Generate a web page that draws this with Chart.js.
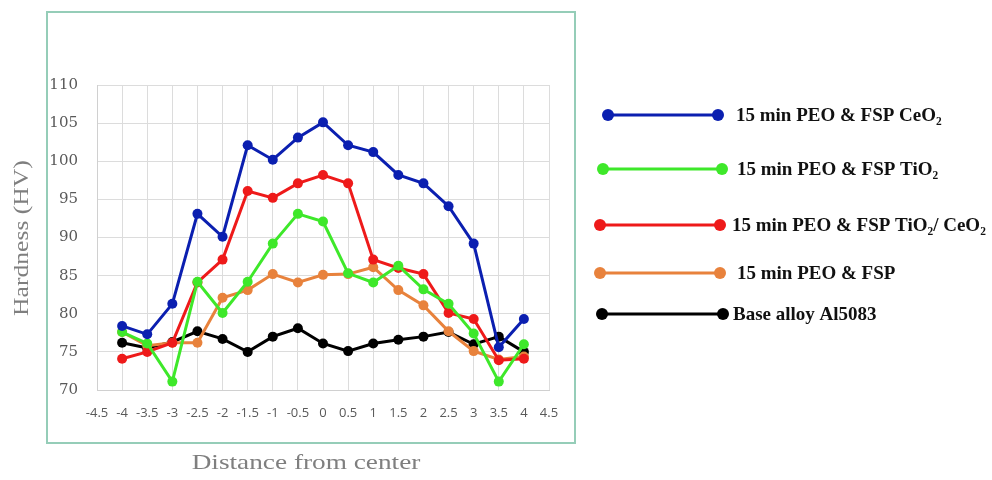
<!DOCTYPE html>
<html>
<head>
<meta charset="utf-8">
<script src="https://cdn.jsdelivr.net/npm/chart.js@4"></script>
<style>
  html, body { margin: 0; padding: 0; background: #fff; }
  #wrap { width: 992px; height: 480px; }
</style>
</head>
<body>
<div id="wrap"><canvas id="hardness-chart" width="992" height="480"></canvas></div>
<script>
const distances = [-4, -3.5, -3, -2.5, -2, -1.5, -1, -0.5, 0, 0.5, 1, 1.5, 2, 2.5, 3, 3.5, 4];
const xTickValues = [-4.5, -4, -3.5, -3, -2.5, -2, -1.5, -1, -0.5, 0, 0.5, 1, 1.5, 2, 2.5, 3, 3.5, 4, 4.5];
const yTickValues = [70, 75, 80, 85, 90, 95, 100, 105, 110];

const ceo2 = [78.4, 77.3, 81.3, 93.1, 90.1, 102.1, 100.2, 103.1, 105.1, 102.1, 101.2, 98.2, 97.1, 94.1, 89.2, 75.6, 79.3];
const tio2 = [77.6, 76.1, 71.1, 84.2, 80.1, 84.2, 89.2, 93.1, 92.1, 85.3, 84.1, 86.3, 83.2, 81.3, 77.4, 71.1, 76.0];
const tio2Ceo2 = [74.1, 75.0, 76.2, 84.1, 87.1, 96.1, 95.2, 97.1, 98.2, 97.1, 87.1, 86.0, 85.2, 80.1, 79.3, 73.9, 74.1];
const peoFsp = [77.6, 75.8, 76.2, 76.2, 82.1, 83.1, 85.2, 84.1, 85.1, 85.2, 86.1, 83.1, 81.1, 77.7, 75.1, 74.0, 74.4];
const baseAlloy = [76.2, 75.5, 76.3, 77.7, 76.7, 75.0, 77.0, 78.1, 76.1, 75.1, 76.1, 76.6, 77.0, 77.6, 76.0, 77.0, 75.0];

const seriesNames = [
  "15 min PEO & FSP CeO\u2082",
  "15 min PEO & FSP TiO\u2082",
  "15 min PEO & FSP TiO\u2082/ CeO\u2082",
  "15 min PEO & FSP",
  "Base alloy Al5083",
];
const seriesValues = [ceo2, tio2, tio2Ceo2, peoFsp, baseAlloy];
const seriesColors = ["#0b1fb0", "#3ee82a", "#ee1a1a", "#e8823c", "#000000"];

const datasets = seriesValues.map((vals, i) => ({
  label: seriesNames[i],
  data: vals.map((v, j) => ({ x: distances[j], y: v })),
  borderColor: seriesColors[i],
  backgroundColor: seriesColors[i],
  borderWidth: 3,
  pointRadius: 5,
  pointBorderWidth: 0,
  tension: 0,
}));

// stretched text, the original picture is a bit wider than its fonts
function wideText(ctx, text, x, y, sx) {
  ctx.save();
  ctx.translate(x, y);
  ctx.scale(sx, 1);
  ctx.fillText(text, 0, 0);
  ctx.restore();
}

// frame, axis titles and the side legend
const decor = {
  id: "decor",
  beforeDraw(chart) {
    const ctx = chart.ctx;
    ctx.save();
    ctx.fillStyle = "#fff";
    ctx.fillRect(0, 0, chart.width, chart.height);
    ctx.strokeStyle = "#95cdb8";
    ctx.lineWidth = 2;
    ctx.strokeRect(47, 12, 528, 431);
    ctx.restore();
  },
  afterDraw(chart) {
    const ctx = chart.ctx;
    ctx.save();
    ctx.fillStyle = "#7f7f7f";
    ctx.textAlign = "center";
    ctx.textBaseline = "middle";
    ctx.font = "22px 'Liberation Serif'";
    wideText(ctx, "Distance from center", 306, 463, 1.24);
    ctx.translate(22, 238);
    ctx.rotate(-Math.PI / 2);
    ctx.font = "21px 'Liberation Serif'";
    wideText(ctx, "Hardness (HV)", 0, 0, 1.22);
    ctx.restore();

    const rows = [
      { y: 115, x0: 608, x1: 718, tx: 736 },
      { y: 169, x0: 603, x1: 722, tx: 737 },
      { y: 225, x0: 600, x1: 720, tx: 732 },
      { y: 273, x0: 600, x1: 720, tx: 737 },
      { y: 314, x0: 602, x1: 723, tx: 733 },
    ];
    ctx.save();
    ctx.font = "bold 19px 'Liberation Serif'";
    ctx.textBaseline = "middle";
    ctx.textAlign = "left";
    rows.forEach((r, i) => {
      ctx.strokeStyle = seriesColors[i];
      ctx.fillStyle = seriesColors[i];
      ctx.lineWidth = 3;
      ctx.beginPath();
      ctx.moveTo(r.x0, r.y);
      ctx.lineTo(r.x1, r.y);
      ctx.stroke();
      [r.x0, r.x1].forEach((x) => {
        ctx.beginPath();
        ctx.arc(x, r.y, 6, 0, Math.PI * 2);
        ctx.fill();
      });
      ctx.fillStyle = "#111";
      ctx.fillText(seriesNames[i], r.tx, r.y + 1);
    });
    ctx.restore();
  },
};

new Chart(document.getElementById("hardness-chart"), {
  type: "line",
  data: { datasets },
  plugins: [decor],
  options: {
    responsive: false,
    animation: false,
    layout: { padding: { left: 0, right: 443, top: 85, bottom: 0 } },
    plugins: { legend: { display: false }, tooltip: { enabled: false } },
    scales: {
      x: {
        type: "linear",
        min: -4.5,
        max: 4.5,
        afterBuildTicks: (s) => { s.ticks = xTickValues.map((v) => ({ value: v })); },
        afterFit: (s) => { s.height = 90; },
        grid: { color: "#dcdcdc", drawTicks: false },
        border: { color: "#d0d0d0" },
        ticks: {
          autoSkip: false,
          maxRotation: 0,
          padding: 15,
          color: "#595959",
          font: { family: "'Open Sans'", size: 13 },
          callback: (v) => String(v),
        },
      },
      y: {
        min: 70,
        max: 110,
        afterBuildTicks: (s) => { s.ticks = yTickValues.map((v) => ({ value: v })); },
        afterFit: (s) => { s.width = 97; },
        grid: { color: "#dcdcdc", drawTicks: false },
        border: { color: "#d0d0d0" },
        ticks: {
          padding: 19,
          color: "#595959",
          font: { family: "'DejaVu Serif'", size: 15 },
        },
      },
    },
  },
});
</script>
</body>
</html>
